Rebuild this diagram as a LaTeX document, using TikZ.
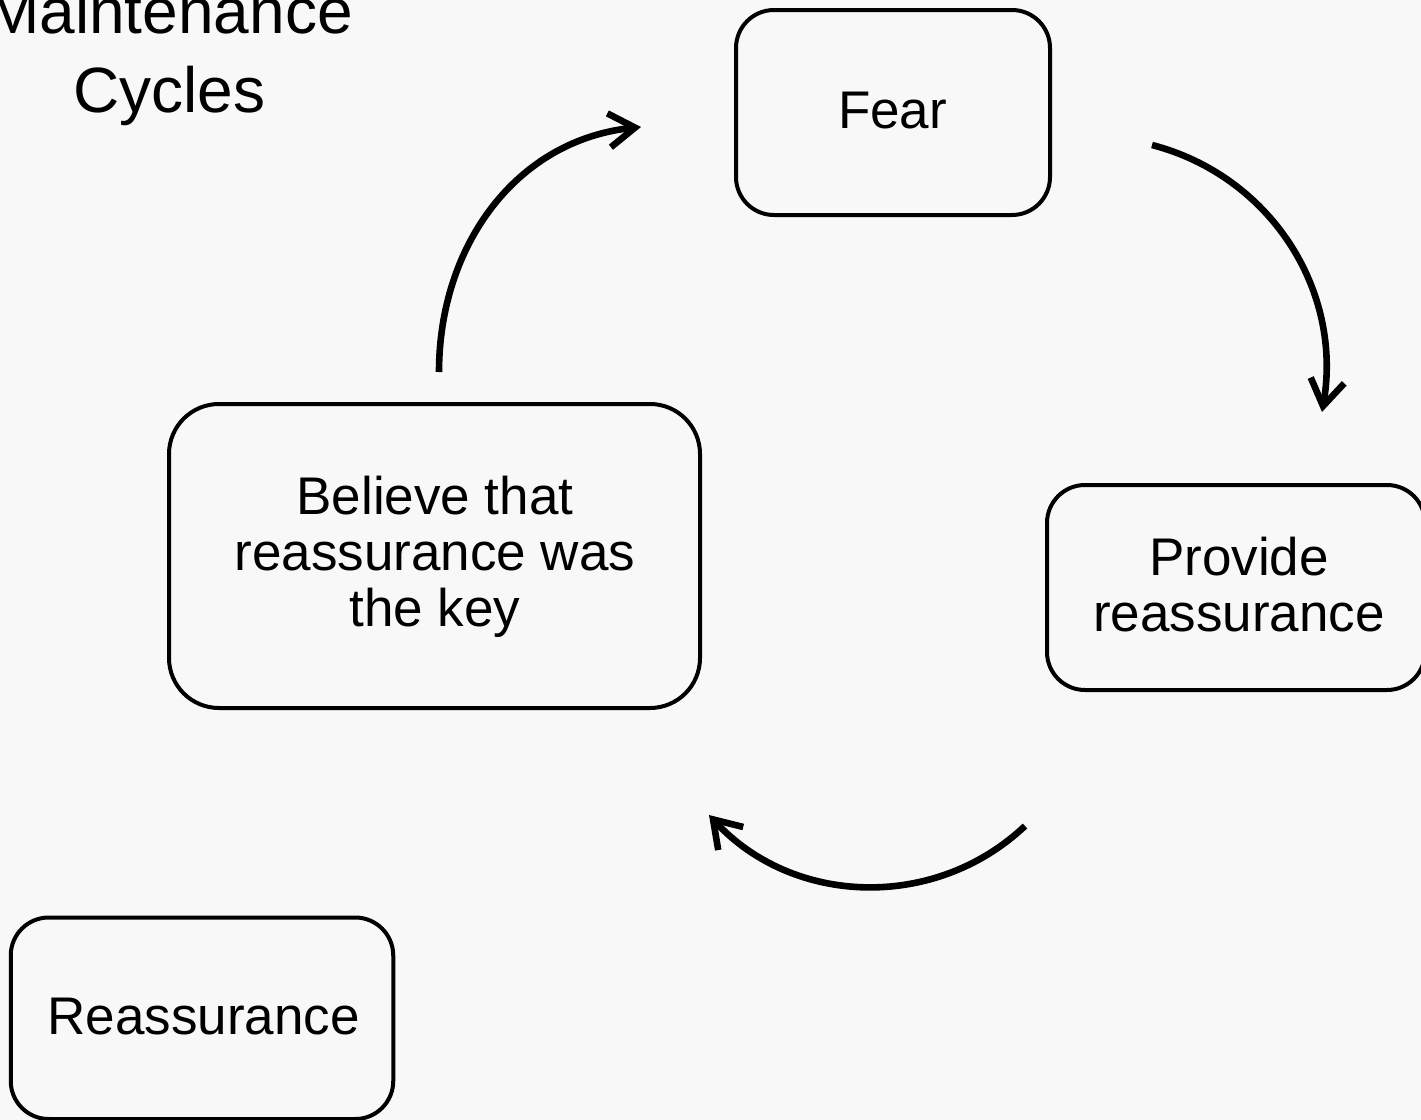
\documentclass[tikz,border=0pt]{standalone}
\usepackage{fontspec}
\setmainfont{Liberation Sans}
\usetikzlibrary{arrows.meta}
\definecolor{paper}{HTML}{F8F8F8}
\begin{document}
\begin{tikzpicture}[x=0.5pt,y=-0.5pt,
  stepbox/.style={draw=black, line width=2pt, rounded corners=19pt, inner sep=0pt, outer sep=0pt},
  boxtext/.style={font=\fontsize{26.5}{28}\selectfont, align=center, inner sep=0pt},
  flow/.style={line width=3.3pt, -{Straight Barb[length=13pt,width=17pt]}}]
\useasboundingbox (0,0) rectangle (1421,1120);
\clip (0,0) rectangle (1421,1120);
\fill[paper] (0,0) rectangle (1421,1120);

% heading
\node[font=\fontsize{32}{39.5}\selectfont, align=center, inner sep=0pt] (title) at (169.5,56) {Maintenance\\Cycles};

% the four boxes
\node[stepbox, minimum width=157pt, minimum height=102.5pt] (fear) at (893,112.5) {};
\node[stepbox, rounded corners=25pt, minimum width=265.5pt, minimum height=152pt] (belief) at (434.5,556) {};
\node[stepbox, minimum width=189pt, minimum height=102.5pt] (provide) at (1236,587.5) {};
\node[stepbox, minimum width=191.25pt, minimum height=100.75pt] (reass) at (202,1018.25) {};

% box texts
\node[boxtext, anchor=base] (fearlbl) at (892.5,128.3) {Fear};
\node[boxtext] (belieflbl) at (435,556.5) {Believe that\\reassurance was\\the key};
\node[boxtext] (providelbl) at (1239,585) {Provide\\reassurance};
\node[boxtext, anchor=base] (reasslbl) at (203.5,1034.5) {Reassurance};

% cycle arrows (near-circular arcs)
\coordinate (l0) at (439,372);
\coordinate (l1) at (641,127);
\coordinate (r0) at (1152,145);
\coordinate (r1) at (1322,412);
\coordinate (b0) at (1025,826);
\coordinate (b1) at (709,815);
\draw[flow] (l0) .. controls +(0,-126) and +(-125,13) .. (l1);
\draw[flow] (r0) .. controls +(119,31) and +(21,-121) .. (r1);
\draw[flow] (b0) .. controls +(-90,85) and +(84,91) .. (b1);
\end{tikzpicture}
\end{document}
